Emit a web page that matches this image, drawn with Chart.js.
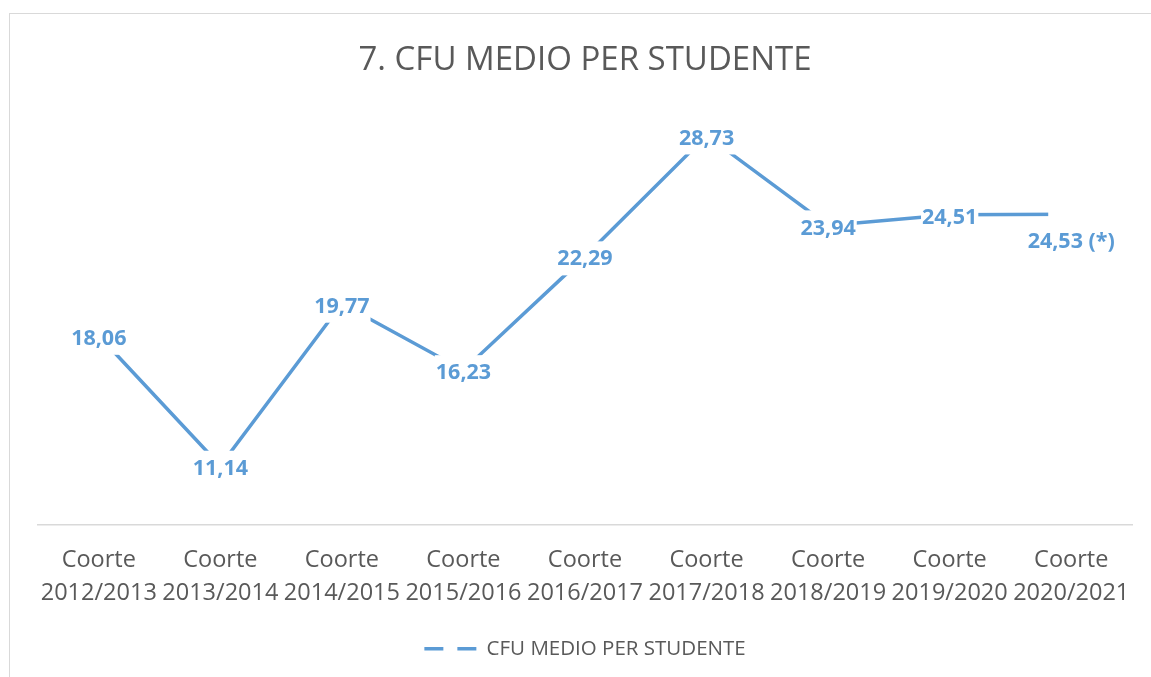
<!DOCTYPE html>
<html>
<head>
<meta charset="utf-8">
<script src="https://cdn.jsdelivr.net/npm/chart.js@4"></script>
<style>
  html, body { margin: 0; padding: 0; background: #fff; overflow: hidden; }
  #frame {
    position: absolute; left: 9px; top: 13px; width: 1200px; height: 720px;
    border: 1.5px solid #d9d9d9; box-sizing: border-box;
  }
  #chart { position: absolute; left: 0; top: 0; }
</style>
</head>
<body>
<div id="frame"></div>
<canvas id="chart" width="1151" height="677"></canvas>
<script>
const categories = [
  ["Coorte", "2012/2013"],
  ["Coorte", "2013/2014"],
  ["Coorte", "2014/2015"],
  ["Coorte", "2015/2016"],
  ["Coorte", "2016/2017"],
  ["Coorte", "2017/2018"],
  ["Coorte", "2018/2019"],
  ["Coorte", "2019/2020"],
  ["Coorte", "2020/2021"],
];
const cfuValues = [18.06, 11.14, 19.77, 16.23, 22.29, 28.73, 23.94, 24.51, 24.53];
const valueLabels = ["18,06", "11,14", "19,77", "16,23", "22,29", "28,73", "23,94", "24,51", "24,53 (*)"];

const blue = "#5B9BD5";
const gray = "#595959";

// labels sit on the points with a white box that hides the line under them
const pointLabels = {
  id: "pointLabels",
  afterDatasetsDraw(chart) {
    const ctx = chart.ctx;
    const meta = chart.getDatasetMeta(0);
    ctx.save();
    ctx.font = "bold 21.5px 'Open Sans'";
    ctx.textAlign = "center";
    ctx.textBaseline = "middle";
    meta.data.forEach((pt, i) => {
      const text = valueLabels[i];
      const w = ctx.measureText(text).width + 2;
      const last = i === meta.data.length - 1;
      const cy = last ? pt.y + 27 : pt.y + 2;
      ctx.fillStyle = "#fff";
      if (last) {
        ctx.fillRect(pt.x - 23, pt.y - 6, 70, 12);
      }
      ctx.fillRect(pt.x - w / 2, cy - 17, w, 34);
      ctx.fillStyle = blue;
      ctx.fillText(text, pt.x, cy + 1);
    });
    ctx.restore();
  },
};

new Chart(document.getElementById("chart"), {
  type: "line",
  data: {
    labels: categories,
    datasets: [
      {
        label: "CFU MEDIO PER STUDENTE",
        data: cfuValues,
        borderColor: blue,
        backgroundColor: blue,
        borderWidth: 3.5,
        pointRadius: 0,
        tension: 0,
      },
    ],
  },
  options: {
    responsive: false,
    animation: false,
    layout: { padding: { left: 38, right: 19, top: 0, bottom: 8 } },
    plugins: {
      tooltip: { enabled: false },
      title: {
        display: true,
        text: "7. CFU MEDIO PER STUDENTE",
        color: gray,
        font: { family: "'Open Sans'", size: 33, weight: "normal" },
        padding: { top: 41, bottom: 31 },
      },
      legend: {
        position: "bottom",
        labels: {
          color: gray,
          font: { family: "'Open Sans'", size: 20.5 },
          usePointStyle: true,
          pointStyleWidth: 52,
          padding: 10,
          generateLabels(chart) {
            const ds = chart.data.datasets[0];
            return [
              {
                text: ds.label,
                fillStyle: blue,
                strokeStyle: blue,
                lineWidth: 3.5,
                lineDash: [19, 14],
                pointStyle: "line",
                fontColor: gray,
                datasetIndex: 0,
              },
            ];
          },
        },
      },
    },
    scales: {
      x: {
        offset: true,
        grid: { display: false, drawTicks: false },
        border: { display: true, color: "#d9d9d9", width: 1.5 },
        ticks: {
          color: gray,
          font: { family: "'Open Sans'", size: 23.5, lineHeight: 1.4 },
          padding: 19,
          maxRotation: 0,
          autoSkip: false,
        },
      },
      y: {
        display: false,
        min: 8,
        max: 30,
      },
    },
  },
  plugins: [pointLabels],
});
</script>
</body>
</html>
